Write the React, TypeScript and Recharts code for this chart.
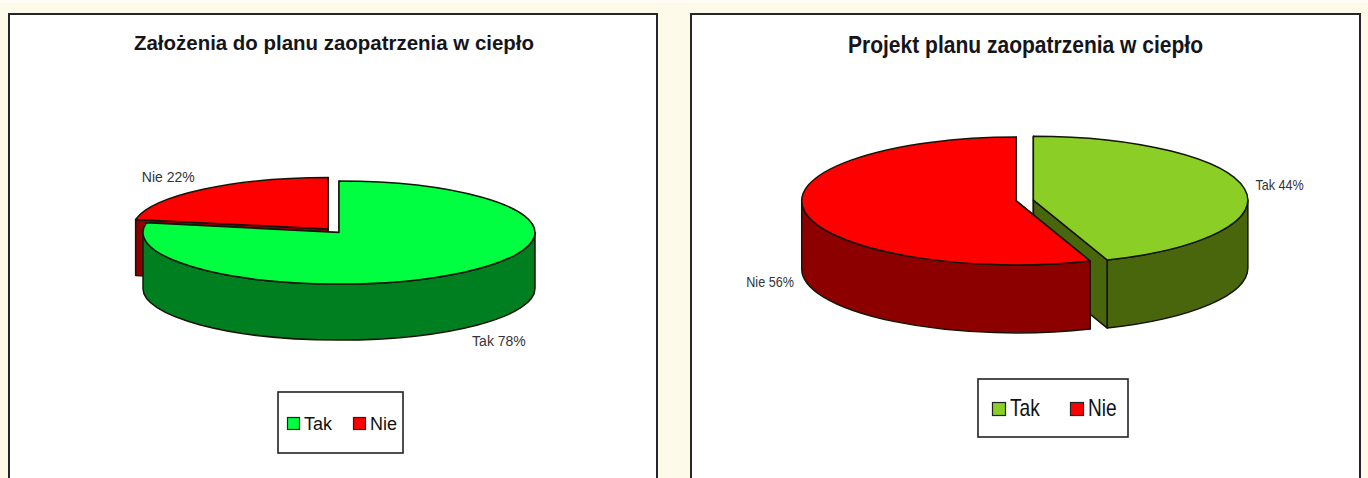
import React from 'react';
import { Legend, Pie, PieChart } from 'recharts';

const TITLE_LEFT = 'Założenia do planu zaopatrzenia w ciepło';
const TITLE_RIGHT = 'Projekt planu zaopatrzenia w ciepło';

const legendNames = ['Tak', 'Nie'];

// slices are listed in paint order, the back one first
const leftNames = ['Nie', 'Tak'];
const leftValues = [22, 78];
const rightNames = ['Tak', 'Nie'];
// the printed labels round these to 44 and 56
const rightValues = [44.4, 55.6];

const leftColors: any = { Tak: '#00FF40', Nie: '#FF0000' };
const leftSideColors: any = { Tak: '#007F20', Nie: '#8C0000' };
const rightColors: any = { Tak: '#8ACE26', Nie: '#FF0000' };
const rightSideColors: any = { Tak: '#4A660D', Nie: '#8C0000' };

const font = '"Liberation Sans", Arial, sans-serif';
const OUTLINE = '#141408';

const toRad = (deg: number) => (deg * Math.PI) / 180;

// 3D slice: elliptical top face, radial cut faces and the outer wall
const makeSlice =
  (tilt: number, depth: number, explode: any, sideColors: any) => (props: any) => {
    const { cx, cy, outerRadius, startAngle, endAngle, fill, name } = props;
    const hi = Math.max(startAngle, endAngle);
    const lo = Math.min(startAngle, endAngle);
    const mid = (hi + lo) / 2;
    const rx = outerRadius;
    const ry = outerRadius * tilt;
    const e = explode[name] || 0;
    const x0 = cx + e * Math.cos(toRad(mid));
    const y0 = cy - e * tilt * Math.sin(toRad(mid));
    const pt = (a: number, dy = 0) =>
      `${x0 + rx * Math.cos(toRad(a))} ${y0 - ry * Math.sin(toRad(a)) + dy}`;
    const radial = (a: number) =>
      `M${x0} ${y0}L${pt(a)}L${pt(a, depth)}L${x0} ${y0 + depth}Z`;

    const walls: string[] = [];
    [-360, 0, 360].forEach((k) => {
      const a = Math.min(hi, k);
      const b = Math.max(lo, k - 180);
      if (a > b) {
        walls.push(
          `M${pt(a)}A${rx} ${ry} 0 0 1 ${pt(b)}L${pt(b, depth)}A${rx} ${ry} 0 0 0 ${pt(a, depth)}Z`,
        );
      }
    });
    const large = hi - lo > 180 ? 1 : 0;
    const top = `M${x0} ${y0}L${pt(hi)}A${rx} ${ry} 0 ${large} 1 ${pt(lo)}Z`;
    const side = sideColors[name];

    return (
      <g stroke={OUTLINE} strokeWidth={1.5} strokeLinejoin="round">
        <path d={radial(lo)} fill={side} />
        <path d={radial(hi)} fill={side} />
        {walls.map((d) => (
          <path key={d} d={d} fill={side} />
        ))}
        <path d={top} fill={fill} />
      </g>
    );
  };

const makeLabel =
  (tilt: number, depth: number, explode: any, size: number, squish: number, dy: number) =>
  (props: any) => {
    const { cx, cy, outerRadius, midAngle, name, value } = props;
    const c = Math.cos(toRad(midAngle));
    const s = Math.sin(toRad(midAngle));
    const e = explode[name] || 0;
    const x = cx + (e + outerRadius) * c + (c > 0 ? 35 : -35);
    const y =
      cy - (e + outerRadius) * tilt * s + (s < 0 ? depth : 0) - 16 * s + size * 0.36 + dy;
    return (
      <text
        transform={`translate(${x} ${y}) scale(${squish} 1)`}
        textAnchor="middle"
        fontFamily={font}
        fontSize={size}
        fill="#33343A"
      >
        {`${name} ${Math.round(value)}%`}
      </text>
    );
  };

const LegendBox = ({ colors, box, swatchX, textX, swatchY, swatch, fontSize, squish }: any) => (
  <svg width={box.width} height={box.height} style={{ display: 'block' }}>
    <rect
      x={1}
      y={1}
      width={box.width - 2}
      height={box.height - 2}
      fill="#fff"
      stroke="#222"
      strokeWidth={1.6}
    />
    {legendNames.map((name, i) => (
      <g key={name}>
        <rect
          x={swatchX[i]}
          y={swatchY}
          width={swatch.width}
          height={swatch.height}
          fill={colors[name]}
          stroke="#222"
          strokeWidth={1.2}
        />
        <text
          transform={`translate(${textX[i]} ${swatchY + swatch.height}) scale(${squish} 1)`}
          fontFamily={font}
          fontSize={fontSize}
          fill="#111"
        >
          {name}
        </text>
      </g>
    ))}
  </svg>
);

const Panel3D = ({
  left,
  panel,
  names,
  values,
  colors,
  sideColors,
  title,
  cx,
  cy,
  rx,
  tilt,
  depth,
  explode,
  startAngle,
  labelSize,
  labelSquish,
  labelDy,
  legend,
}: any) => {
  const data = names.map((name: string, i: number) => ({
    name,
    value: values[i],
    fill: colors[name],
  }));
  return (
    <div style={{ position: 'absolute', left, top: 0 }}>
      <div
        style={{
          position: 'absolute',
          left: panel.x,
          top: panel.y,
          width: panel.width,
          height: 478,
          background: '#fff',
          border: '2px solid #26262a',
          boxSizing: 'border-box',
        }}
      />
      <PieChart width={684} height={478} margin={{ top: 0, right: 0, bottom: 0, left: 0 }}>
        <text
          x={title.x}
          y={title.y}
          textAnchor="middle"
          fontFamily={font}
          fontWeight="bold"
          fontSize={title.size}
          fill="#15151A"
          textLength={title.width}
          lengthAdjust="spacingAndGlyphs"
        >
          {title.text}
        </text>
        <Pie
          data={data}
          dataKey="value"
          nameKey="name"
          cx={cx}
          cy={cy}
          innerRadius={0}
          outerRadius={rx}
          startAngle={startAngle}
          endAngle={startAngle - 360}
          stroke="none"
          isAnimationActive={false}
          labelLine={false}
          label={makeLabel(tilt, depth, explode, labelSize, labelSquish, labelDy)}
          shape={makeSlice(tilt, depth, explode, sideColors)}
        />
        <Legend
          wrapperStyle={{
            position: 'absolute',
            left: legend.box.x,
            top: legend.box.y,
            width: legend.box.width,
            height: legend.box.height,
          }}
          content={() => <LegendBox colors={colors} {...legend} />}
        />
      </PieChart>
    </div>
  );
};

export default function App() {
  return (
    <div
      style={{
        position: 'fixed',
        left: 0,
        top: 0,
        width: 1368,
        height: 478,
        overflow: 'hidden',
        background: '#FEFAEA',
        borderTop: '3px solid #FFFDF6',
        boxSizing: 'border-box',
      }}
    >
      <div style={{ position: 'absolute', left: 0, top: -3 }}>
        <Panel3D
          left={0}
          panel={{ x: 8, y: 13, width: 650 }}
          names={leftNames}
          values={leftValues}
          colors={leftColors}
          sideColors={leftSideColors}
          title={{ text: TITLE_LEFT, x: 334, y: 50, size: 21, width: 400 }}
          cx={339}
          cy={232.5}
          rx={196}
          tilt={0.263}
          depth={56}
          explode={{ Nie: 17 }}
          startAngle={90 + (leftValues[0] / 100) * 360}
          labelSize={14}
          labelSquish={1}
          labelDy={0}
          legend={{
            box: { x: 277, y: 391, width: 127, height: 63 },
            swatchX: [10.5, 76.5],
            textX: [27, 93],
            swatchY: 26.5,
            swatch: { width: 12, height: 12 },
            fontSize: 18,
            squish: 1,
          }}
        />
        <Panel3D
          left={684}
          panel={{ x: 6, y: 13, width: 671 }}
          names={rightNames}
          values={rightValues}
          colors={rightColors}
          sideColors={rightSideColors}
          title={{ text: TITLE_RIGHT, x: 341.5, y: 53, size: 23, width: 355 }}
          cx={340.8}
          cy={200.5}
          rx={214.5}
          tilt={0.298}
          depth={68}
          explode={{ Tak: 8.7, Nie: 8.7 }}
          startAngle={90}
          labelSize={14}
          labelSquish={0.9}
          labelDy={-1}
          legend={{
            box: { x: 292.5, y: 378, width: 152, height: 60 },
            swatchX: [15.5, 93.5],
            textX: [33, 111],
            swatchY: 24.5,
            swatch: { width: 13, height: 13 },
            fontSize: 23,
            squish: 0.83,
          }}
        />
      </div>
    </div>
  );
}
